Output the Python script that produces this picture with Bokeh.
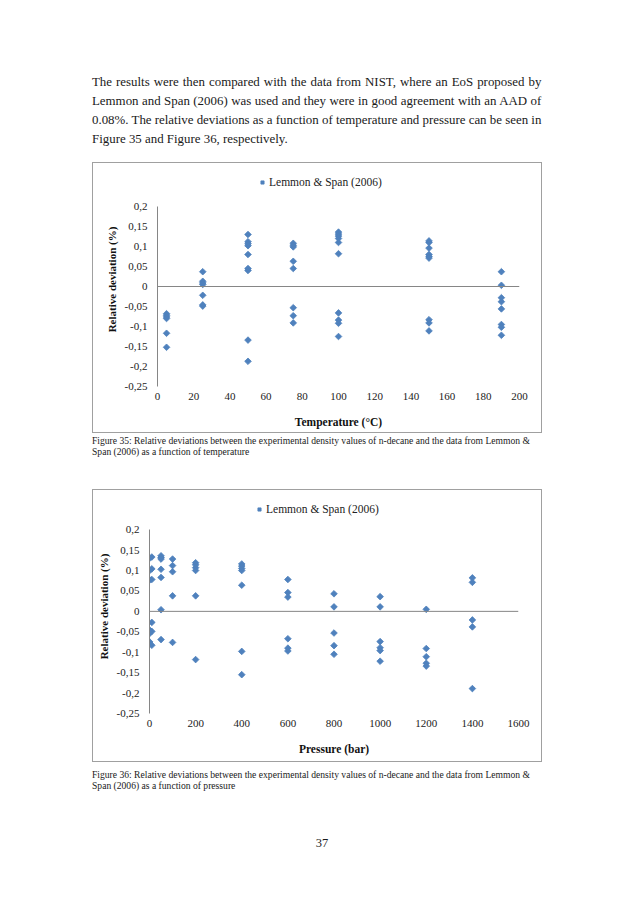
import math
from bokeh.plotting import figure
from bokeh.models import (Div, Spacer, Span, FixedTicker, CustomJSTickFormatter,
                          Legend, LegendItem)
from bokeh.layouts import column, row
from bokeh.embed import file_html
from bokeh.resources import INLINE

# ---------------- data ----------------
temperature_C = [5, 5, 5, 5, 5, 5,
                 25, 25, 25, 25, 25, 25, 25,
                 50, 50, 50, 50, 50, 50, 50, 50, 50,
                 75, 75, 75, 75, 75, 75, 75, 75,
                 100, 100, 100, 100, 100, 100, 100, 100, 100, 100,
                 150, 150, 150, 150, 150, 150, 150, 150, 150,
                 190, 190, 190, 190, 190, 190, 190, 190]
dev_T = [-0.068, -0.072, -0.076, -0.080, -0.117, -0.152,
         0.037, 0.013, 0.009, 0.005, -0.022, -0.046, -0.049,
         0.130, 0.112, 0.107, 0.102, 0.080, 0.045, 0.040, -0.134, -0.187,
         0.108, 0.103, 0.099, 0.063, 0.045, -0.053, -0.073, -0.091,
         0.136, 0.131, 0.126, 0.120, 0.110, 0.082, -0.066, -0.084, -0.092, -0.125,
         0.114, 0.110, 0.096, 0.080, 0.075, 0.071, -0.083, -0.091, -0.111,
         0.037, 0.003, -0.028, -0.038, -0.056, -0.095, -0.102, -0.122]

pressure_bar = [1, 1, 1, 1, 1, 1,
                10, 10, 10, 10, 10, 10,
                50, 50, 50, 50, 50, 50, 50,
                100, 100, 100, 100, 100,
                200, 200, 200, 200, 200, 200,
                400, 400, 400, 400, 400, 400, 400,
                600, 600, 600, 600, 600, 600,
                800, 800, 800, 800, 800,
                1000, 1000, 1000, 1000, 1000, 1000,
                1200, 1200, 1200, 1200, 1200,
                1400, 1400, 1400, 1400, 1400]
dev_P = [0.130, 0.100, 0.077, -0.046, -0.054, -0.075,
         0.133, 0.104, 0.078, -0.027, -0.049, -0.083,
         0.136, 0.132, 0.128, 0.103, 0.083, 0.004, -0.069,
         0.128, 0.112, 0.097, 0.038, -0.076,
         0.119, 0.114, 0.107, 0.100, 0.038, -0.118,
         0.116, 0.111, 0.105, 0.100, 0.064, -0.098, -0.155,
         0.078, 0.046, 0.035, -0.067, -0.090, -0.097,
         0.043, 0.011, -0.053, -0.084, -0.105,
         0.036, 0.011, -0.074, -0.089, -0.096, -0.122,
         0.005, -0.091, -0.111, -0.127, -0.134,
         0.082, 0.071, -0.021, -0.038, -0.189]

t_ticks = [0, 20, 40, 60, 80, 100, 120, 140, 160, 180, 200]
p_ticks = [0, 200, 400, 600, 800, 1000, 1200, 1400, 1600]
y_ticks = [-0.25, -0.2, -0.15, -0.1, -0.05, 0, 0.05, 0.1, 0.15, 0.2]
series_label = "Lemmon & Span (2006)"

paragraph_lines = [
    "The results were then compared with the data from NIST, where an EoS proposed by",
    "Lemmon and Span (2006) was used and they were in good agreement with an AAD of",
    "0.08%. The relative deviations as a function of temperature and pressure can be seen in",
    "Figure 35 and Figure 36, respectively.",
]
caption1_lines = [
    "Figure 35: Relative deviations between the experimental density values of n-decane and the data from Lemmon &",
    "Span (2006) as a function of temperature",
]
caption2_lines = [
    "Figure 36: Relative deviations between the experimental density values of n-decane and the data from Lemmon &",
    "Span (2006) as a function of pressure",
]
page_number = "37"

# ---------------- styling ----------------
FONT = "Liberation Serif"
BLUE = "#4F81BD"
AXIS_GRAY = "#868686"
BOX_GRAY = "#a0a0a0"


def make_chart(x, y, x_end, xticks, xlabel, width, height, mb_left, mb_right,
               mb_top, mb_bottom, y_top, legend_loc):
    p = figure(width=width, height=height, x_range=(0, x_end), y_range=(-0.25, y_top),
               output_backend="svg", toolbar_location=None,
               min_border_left=mb_left, min_border_right=mb_right,
               min_border_top=mb_top, min_border_bottom=mb_bottom,
               background_fill_color="white", border_fill_color="white",
               styles={"background-color": "white"})
    p.outline_line_color = None
    p.grid.visible = False

    p.add_layout(Span(location=0, dimension="width", line_color=AXIS_GRAY, line_width=1))

    r = p.scatter(x, y, marker="square", size=4.7, angle=math.pi / 4,
                  fill_color=BLUE, line_color=BLUE, line_width=0.8)

    xa = p.xaxis[0]
    xa.ticker = FixedTicker(ticks=xticks)
    xa.axis_line_color = None
    xa.major_tick_line_color = None
    xa.minor_tick_line_color = None
    xa.major_tick_out = 0
    xa.major_tick_in = 0
    xa.minor_tick_out = 0
    xa.minor_tick_in = 0
    xa.major_label_standoff = 6
    xa.major_label_text_font = FONT
    xa.major_label_text_font_size = "11px"
    xa.major_label_text_color = "#222222"
    xa.axis_label = xlabel
    xa.axis_label_text_font = FONT
    xa.axis_label_text_font_style = "bold"
    xa.axis_label_text_font_size = "11.5px"
    xa.axis_label_text_color = "#111111"
    xa.axis_label_standoff = 13

    ya = p.yaxis[0]
    ya.ticker = FixedTicker(ticks=y_ticks)
    ya.bounds = (-0.25, 0.2)
    ya.axis_line_color = AXIS_GRAY
    ya.axis_line_width = 1
    ya.major_tick_line_color = None
    ya.minor_tick_line_color = None
    ya.major_tick_out = 0
    ya.major_tick_in = 0
    ya.minor_tick_out = 0
    ya.minor_tick_in = 0
    ya.major_label_standoff = 10
    ya.major_label_text_font = FONT
    ya.major_label_text_font_size = "11px"
    ya.major_label_text_color = "#222222"
    ya.formatter = CustomJSTickFormatter(
        code="var s = (Math.round(tick*100)/100).toString(); return s.replace('.', ',');")
    ya.axis_label = "Relative deviation (%)"
    ya.axis_label_text_font = FONT
    ya.axis_label_text_font_style = "bold"
    ya.axis_label_text_font_size = "11px"
    ya.axis_label_text_color = "#111111"
    ya.axis_label_standoff = 4

    legend = Legend(items=[LegendItem(label=series_label, renderers=[r])],
                    location=legend_loc, orientation="horizontal",
                    padding=2, margin=0, spacing=0,
                    border_line_color=None, background_fill_alpha=0,
                    glyph_width=8, glyph_height=14, label_height=14,
                    label_standoff=3, label_text_font=FONT,
                    label_text_font_size="11.5px", label_text_color="#222222")
    p.add_layout(legend)
    return p


def boxed(fig):
    # 1px grey chart-area border around the figure
    return row(fig, styles={"background-color": BOX_GRAY, "padding": "1px"})


def text_block(lines, width, height, font_size, line_height):
    parts = []
    for i, ln in enumerate(lines):
        last = "justify" if i < len(lines) - 1 else "left"
        parts.append('<div style="white-space:nowrap;text-align:justify;text-align-last:%s;">%s</div>'
                     % (last, ln.replace("&", "&amp;")))
    return Div(text="".join(parts), width=width, height=height,
               styles={"font-family": "'Liberation Serif', serif", "font-size": font_size,
                       "line-height": line_height, "color": "#1a1a1a", "margin": "0"})


chart1 = make_chart(temperature_C, dev_T, 200, t_ticks, "Temperature (°C)",
                    448, 269, 64, 22, 9, 46, 0.285, (101, 197))
chart2 = make_chart(pressure_bar, dev_P, 1600, p_ticks, "Pressure (bar)",
                    448, 271, 56, 23, 9, 48, 0.2738, (106, 197))

para = text_block(paragraph_lines, 450, 76, "12.9px", "19px")
cap1 = text_block(caption1_lines, 450, 24, "9.6px", "11px")
cap2 = text_block(caption2_lines, 450, 24, "9.6px", "11px")
pnum = Div(text=page_number, width=450, height=16,
           styles={"font-family": "'Liberation Serif', serif", "font-size": "12.5px",
                   "line-height": "16px", "text-align": "center", "color": "#1a1a1a"})

L = 92
page = column(
    Spacer(height=73),
    row(Spacer(width=L), para),
    Spacer(height=13),
    row(Spacer(width=L), boxed(chart1)),
    Spacer(height=2),
    row(Spacer(width=L), cap1),
    Spacer(height=30),
    row(Spacer(width=L), boxed(chart2)),
    Spacer(height=7),
    row(Spacer(width=L), cap2),
    Spacer(height=37),
    row(Spacer(width=L), pnum),
)

open("out.html", "w").write(file_html(page, INLINE))
